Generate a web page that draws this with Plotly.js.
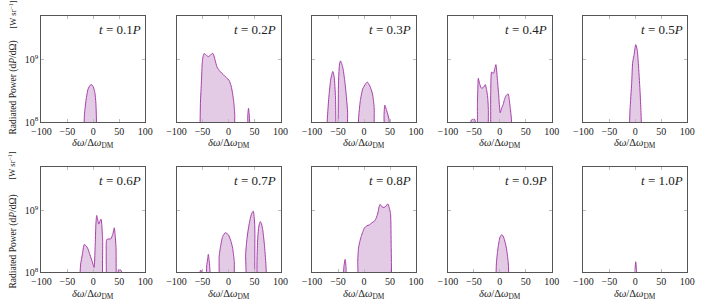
<!DOCTYPE html>
<html><head><meta charset="utf-8">
<script src="https://cdn.plot.ly/plotly-3.0.1.min.js"></script>
<style>html,body{margin:0;padding:0;background:#fff}#chart{width:702px;height:302px}</style>
</head><body><div id="chart"></div>
<script>
// ---- data (frequency offset δω/Δω_DM, radiated power W/sr) ----
const times = ['0.1', '0.2', '0.3', '0.4', '0.5', '0.6', '0.7', '0.8', '0.9', '1.0'];
const xTicks = [-100, -50, 0, 50, 100];
const yTicks = [1e8, 1e9];
const yTickText = ['10<sup>8</sup>', '10<sup>9</sup>'];

const dw_t01 = [-19, -17, -14, -10, -6, -3, 0, 3, 5, 7];
const P_t01  = [5.0e7, 1.32e8, 2.24e8, 3.39e8, 3.89e8, 3.98e8, 3.63e8, 2.95e8, 2.0e8, 5.0e7];

const dw_t02 = [-55, -54, -52, -50.5, -49, -46.7, -42.5, -38.5, -34, -30, -26, -22, -16, -10, -4, 1, 5, 8, 10, 12, 14, 35.5, 37, 38.5, 40, 42];
const P_t02  = [5.0e7, 2.0e8, 4.57e8, 8.91e8, 1.12e9, 1.26e9, 1.17e9, 1.12e9, 1.20e9, 1.26e9, 1.0e9, 7.59e8, 6.46e8, 5.75e8, 5.13e8, 4.68e8, 3.80e8, 2.82e8, 2.14e8, 1.32e8, 5.0e7, 5.0e7, 1.26e8, 1.66e8, 1.26e8, 5.0e7];

const dw_t03 = [-72, -70.5, -67.7, -63.8, -60, -57.3, -54.8, -52.5,
                -51.3, -49, -47, -45.2, -41, -37, -33.7, -31.5, -30,
                -12, -10.5, -7.1, -2.5, 2.9, 6.2, 11.2, 16.3, 19.6, 22,
                37.5, 38.5, 40, 43.7, 48, 50.5];
const P_t03  = [5.0e7, 1.12e8, 2.45e8, 4.90e8, 6.46e8, 5.25e8, 2.45e8, 5.0e7,
                5.0e7, 4.57e8, 8.51e8, 9.55e8, 7.59e8, 4.57e8, 2.45e8, 1.41e8, 5.0e7,
                5.0e7, 1.12e8, 2.19e8, 3.39e8, 4.07e8, 4.37e8, 3.80e8, 2.82e8, 1.70e8, 5.0e7,
                5.0e7, 1.26e8, 1.86e8, 1.51e8, 1.12e8, 5.0e7];

const dw_t04 = [-57, -55, -52, -48, -46,
                -44.3, -43, -42, -41.3, -39, -36, -34.8, -31, -27.9, -25.5, -23.3, -22, -21,
                -19, -17.5, -15.8, -13.8, -11.9, -9.5, -7.5, -5, -2.3, 0.8, 3.5, 6.5, 9, 11.7, 14, 16.2, 18.2, 20, 22, 24];
const P_t04  = [5.0e7, 1.07e8, 1.10e8, 1.10e8, 5.0e7,
                5.0e7, 2.0e8, 3.98e8, 5.01e8, 4.17e8, 3.55e8, 3.47e8, 3.63e8, 3.98e8, 3.31e8, 2.51e8, 1.58e8, 5.0e7,
                5.0e7, 2.82e8, 6.31e8, 6.17e8, 6.03e8, 7.24e8, 8.32e8, 5.25e8, 2.82e8, 1.41e8, 1.66e8, 1.91e8, 2.29e8, 2.63e8, 2.75e8, 2.82e8, 2.29e8, 1.70e8, 1.20e8, 5.0e7];

const dw_t05 = [-12, -10.2, -7, -5, -2.5, 0.8, 3.8, 5.8, 9, 11, 12.5];
const P_t05  = [5.0e7, 1.55e8, 4.17e8, 9.12e8, 1.17e9, 1.74e9, 1.41e9, 8.71e8, 3.24e8, 1.41e8, 5.0e7];

const dw_t06 = [-26.5, -24.5, -21.2, -17.3, -14, -10.8, -6.3, -1.2, 1.5, 3.5, 5, 6.5, 8, 10.5, 12.5, 14.8, 16.5, 18, 19.5,
                23.5, 24.8, 25.8, 30, 33.5, 37.3, 40.4, 42, 43.7, 45.3,
                46.5, 48.5, 52, 54, 55.5];
const P_t06  = [5.0e7, 1.32e8, 1.91e8, 2.82e8, 2.69e8, 2.45e8, 1.91e8, 1.41e8, 1.20e8, 2.51e8, 6.03e8, 8.32e8, 7.41e8, 6.03e8, 6.61e8, 7.24e8, 5.62e8, 3.16e8, 5.0e7,
                5.0e7, 2.0e8, 3.39e8, 3.47e8, 3.47e8, 4.07e8, 5.25e8, 3.98e8, 2.51e8, 5.0e7,
                5.0e7, 1.10e8, 1.10e8, 1.05e8, 5.0e7];

const dw_t07 = [-56, -54, -51.5, -50,
                -44, -42, -40, -38.8, -37, -35.5, -34.5,
                -20.5, -18, -15.8, -11.2, -6.2, -0.4, 4.8, 8, 11.1, 13.5,
                31.5, 33, 35.6, 38.5, 41.3, 44.5, 47.6, 50.4, 52,
                53.5, 54.8, 56.2, 58.5, 61.2, 63.5, 65.8, 69, 72, 73.8];
const P_t07  = [5.0e7, 1.07e8, 1.05e8, 5.0e7,
                5.0e7, 1.26e8, 1.66e8, 1.95e8, 1.51e8, 1.0e8, 5.0e7,
                5.0e7, 1.78e8, 2.45e8, 3.80e8, 4.37e8, 4.07e8, 3.16e8, 2.45e8, 1.48e8, 5.0e7,
                5.0e7, 2.0e8, 3.55e8, 5.25e8, 7.08e8, 8.91e8, 9.77e8, 5.89e8, 5.0e7,
                5.0e7, 1.58e8, 3.55e8, 5.62e8, 6.61e8, 6.03e8, 4.90e8, 2.82e8, 1.32e8, 5.0e7];

const dw_t08 = [-40.5, -38.5, -36.2, -34.5, -33,
                -14, -12, -10.6, -8, -5.4, -2, 1, 5, 10.6, 15, 20.2, 23.5, 26.7, 29, 31.2, 34.5, 38.3, 42, 44.5, 46.5, 49, 51, 52.3, 53.3];
const P_t08  = [5.0e7, 1.26e8, 1.62e8, 1.20e8, 5.0e7,
                5.0e7, 1.58e8, 2.45e8, 3.16e8, 3.80e8, 4.57e8, 5.25e8, 5.62e8, 5.89e8, 6.31e8, 6.76e8, 7.59e8, 9.12e8, 1.15e9, 1.26e9, 1.15e9, 1.12e9, 1.17e9, 1.26e9, 1.26e9, 1.07e9, 8.91e8, 2.51e8, 5.0e7];

const dw_t09 = [-8, -6.5, -4, -1.5, 0.4, 3.7, 6, 8.1, 11, 13.3, 16.3, 18];
const P_t09  = [5.0e7, 1.41e8, 2.29e8, 3.16e8, 3.72e8, 4.07e8, 3.89e8, 3.55e8, 2.88e8, 2.29e8, 1.41e8, 5.0e7];

const dw_t10 = [-1.5, -0.2, 0.8, 1.8, 3];
const P_t10  = [5.0e7, 1.20e8, 1.48e8, 1.20e8, 5.0e7];

const allDw = [dw_t01, dw_t02, dw_t03, dw_t04, dw_t05, dw_t06, dw_t07, dw_t08, dw_t09, dw_t10];
const allP  = [P_t01, P_t02, P_t03, P_t04, P_t05, P_t06, P_t07, P_t08, P_t09, P_t10];

// ---- layout ----
const W = 702, H = 302;
const colLeft = [41.3, 176.5, 312, 447.8, 583.3];
const panelW = 104;
const rowY = [[16, 122], [167.3, 272.3]];
const FONT = 'Liberation Serif';
const lineCol = '#a63fa8';
const fillCol = 'rgba(227,202,229,1)';

const traces = [];
const layout = {
  width: W, height: H, margin: {l: 0, r: 0, t: 0, b: 0},
  paper_bgcolor: '#fff', plot_bgcolor: '#fff', showlegend: false,
  font: {family: FONT, size: 9, color: '#222'},
  annotations: []
};

for (let i = 0; i < 10; i++) {
  const row = Math.floor(i / 5), col = i % 5;
  const sfx = i === 0 ? '' : String(i + 1);
  const xa = 'xaxis' + sfx, ya = 'yaxis' + sfx;
  const x0 = colLeft[col] / W, x1 = (colLeft[col] + panelW) / W;
  const y0 = (H - rowY[row][1]) / H, y1 = (H - rowY[row][0]) / H;
  layout[xa] = {
    domain: [x0, x1], anchor: 'y' + sfx, range: [-100, 100],
    tickvals: xTicks, ticks: 'inside', ticklen: 3, tickcolor: '#bbb', tickwidth: 1,
    showline: true, mirror: 'ticks', linecolor: '#555', linewidth: 1,
    showgrid: false, zeroline: false, fixedrange: true,
    tickfont: {family: FONT, size: 10, color: '#222'}
  };
  layout[ya] = {
    domain: [y0, y1], anchor: 'x' + sfx, type: 'log', range: [8, 9.7],
    tickvals: yTicks, ticktext: yTickText, showticklabels: col === 0,
    ticks: 'inside', ticklen: 3, tickcolor: '#bbb', tickwidth: 1,
    showline: true, mirror: 'ticks', linecolor: '#555', linewidth: 1,
    showgrid: false, zeroline: false, fixedrange: true,
    tickfont: {family: FONT, size: 10, color: '#222'}
  };
  traces.push({
    type: 'scatter', mode: 'lines', x: allDw[i], y: allP[i],
    xaxis: 'x' + sfx, yaxis: 'y' + sfx,
    line: {color: lineCol, width: 1, shape: 'spline', smoothing: 0.6},
    fill: 'toself', fillcolor: fillCol, hoverinfo: 'skip'
  });
  // panel title
  layout.annotations.push({
    xref: 'x' + sfx + ' domain', yref: 'y' + sfx + ' domain', x: 0.975, y: 0.875,
    xanchor: 'right', yanchor: 'middle', showarrow: false,
    text: '<i>t</i> = ' + times[i] + '<i>P</i>', font: {family: FONT, size: 13, color: '#222'}
  });
  // x-axis title
  const ty = row === 0 ? 143 : 294;
  layout.annotations.push({
    xref: 'x' + sfx + ' domain', yref: 'paper', x: 0.5, y: (H - ty) / H,
    xanchor: 'center', yanchor: 'middle', showarrow: false,
    text: '<i>δω</i>/Δ<i>ω</i><sub>DM</sub>', font: {family: FONT, size: 10.5, color: '#222'}
  });
}
// y-axis titles
[[88, 15], [242, 166]].forEach(([cy, uy]) => {
  layout.annotations.push({
    xref: 'paper', yref: 'paper', x: 12.5 / W, y: (H - cy) / H, textangle: -90,
    xanchor: 'center', yanchor: 'middle', showarrow: false,
    text: 'Radiated Power (d<i>P</i>/dΩ)', font: {family: FONT, size: 9.5, color: '#222'}
  });
  layout.annotations.push({
    xref: 'paper', yref: 'paper', x: 12.5 / W, y: (H - uy) / H, textangle: -90,
    xanchor: 'center', yanchor: 'middle', showarrow: false,
    text: '[W sr<sup>−1</sup>]', font: {family: FONT, size: 8.5, color: '#222'}
  });
});

Plotly.newPlot('chart', traces, layout, {staticPlot: true, displayModeBar: false});
</script></body></html>
